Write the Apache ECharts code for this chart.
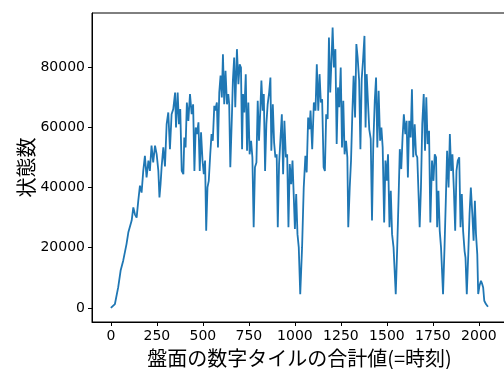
<!DOCTYPE html>
<html>
<head>
<meta charset="utf-8">
<script src="https://cdn.jsdelivr.net/npm/echarts@6/dist/echarts.min.js"></script>
<style>
  html, body { margin: 0; padding: 0; background: #fff; }
  #chart { width: 504px; height: 369px; }
</style>
</head>
<body>
<div id="chart"></div>
<script>
// 盤面の合計値(時刻)ごとの状態数 — 図から読み取った値
const sumValues = [
  0, 22, 40, 53, 67, 85, 95, 113, 122, 131, 140, 149, 158, 167, 176, 185, 194, 204, 212, 221,
  230, 240, 249, 258, 264, 270, 276, 285, 294, 303, 312, 321, 330, 339, 349, 354, 363, 370, 377, 385,
  394, 399, 406, 413, 421, 430, 439, 447, 454, 461, 468, 476, 483, 490, 498, 505, 512, 518, 525, 532,
  540, 547, 554, 562, 567, 576, 582, 589, 596, 603, 609, 616, 623, 631, 638, 643, 649, 658, 663, 670,
  676, 685, 693, 700, 707, 713, 718, 725, 733, 740, 747, 754, 762, 769, 776, 783, 791, 798, 805, 812,
  818, 825, 831, 838, 845, 852, 860, 867, 872, 880, 887, 894, 901, 907, 914, 921, 929, 936, 943, 951,
  958, 965, 972, 980, 987, 994, 1000, 1007, 1014, 1021, 1029, 1039, 1048, 1057, 1064, 1072, 1079, 1085, 1094, 1103,
  1112, 1119, 1127, 1134, 1141, 1148, 1156, 1163, 1170, 1178, 1185, 1192, 1200, 1205, 1212, 1220, 1227, 1234, 1241, 1249,
  1256, 1263, 1270, 1278, 1285, 1290, 1298, 1305, 1312, 1319, 1327, 1334, 1341, 1349, 1356, 1363, 1370, 1378, 1384, 1390,
  1397, 1404, 1412, 1419, 1426, 1434, 1441, 1448, 1455, 1463, 1470, 1477, 1485, 1492, 1499, 1506, 1514, 1521, 1528, 1536,
  1541, 1548, 1556, 1563, 1570, 1578, 1585, 1592, 1600, 1607, 1614, 1621, 1629, 1636, 1643, 1651, 1658, 1665, 1672, 1678,
  1685, 1692, 1700, 1707, 1714, 1721, 1729, 1736, 1745, 1753, 1760, 1767, 1773, 1780, 1787, 1794, 1805, 1813, 1820, 1827,
  1835, 1842, 1849, 1856, 1864, 1871, 1878, 1885, 1893, 1900, 1907, 1914, 1922, 1927, 1934, 1942, 1949, 1956, 1964, 1971,
  1978, 1984, 1991, 1996, 2003, 2011, 2018, 2023, 2029, 2038, 2049
];
const stateCounts = [
  0, 1300, 6900, 12400, 15700, 21200, 25100, 29000, 33400, 31000, 30000, 35600, 40600, 38300, 45500, 50500, 43300, 48900, 45500, 53900,
  48300, 53900, 51000, 45500, 36700, 41100, 47000, 53300, 47000, 61000, 64900, 52700, 64300, 66000, 71500, 59900, 71500, 61000, 66000, 45500,
  44400, 56600, 53300, 68200, 62100, 71000, 64300, 67600, 45500, 59900, 57700, 61600, 45500, 58300, 48900, 44400, 48900, 25600, 40000, 42200,
  51000, 57700, 55500, 67100, 65500, 68200, 53300, 71500, 77100, 69900, 84200, 67600, 78700, 67600, 71000, 67600, 46700, 64300, 75500, 83100,
  66600, 85900, 74300, 80900, 79800, 52700, 71000, 64900, 77600, 52200, 68200, 51000, 55500, 50000, 26800, 46700, 48300, 68800, 55500, 65500,
  75500, 65500, 71000, 45500, 61000, 67600, 71500, 76500, 52200, 67600, 54900, 50000, 51000, 26800, 47800, 55500, 64300, 44400, 62100, 50000,
  51000, 26800, 47800, 41100, 48900, 48900, 26200, 37800, 24500, 20100, 4600, 20100, 40000, 50500, 45000, 63200, 59300, 65500, 52700, 68200,
  65500, 80900, 65500, 77600, 68200, 69300, 46700, 45500, 64300, 62700, 89800, 71500, 84200, 93100, 79800, 85900, 54400, 73200, 66600, 79800,
  53300, 68800, 51000, 55500, 50000, 26800, 40000, 48900, 64300, 77100, 63200, 87600, 83100, 75500, 52700, 76000, 82000, 90300, 59900, 77600,
  78100, 59300, 56100, 29000, 54400, 68800, 76500, 53300, 72100, 55500, 59900, 53300, 28400, 48900, 42200, 51000, 26800, 38900, 24500, 20100,
  19500, 4600, 20100, 35600, 52700, 46100, 56600, 64300, 57700, 62100, 43300, 62100, 56600, 72600, 50000, 61000, 51000, 50000, 50000, 26800,
  40000, 61000, 71000, 52200, 69900, 54400, 58800, 28400, 48900, 42200, 51000, 50000, 26800, 38900, 25600, 20100, 4600, 20100, 35600, 52200,
  40000, 57700, 45500, 51000, 38900, 25600, 45500, 48900, 50000, 26800, 37800, 25600, 18900, 16700, 4600, 17800, 31200, 40000, 31200, 22300,
  35600, 24500, 17800, 4600, 7400, 9000, 7900, 6800, 2400, 1300, 400
];
const xTicks = [0, 250, 500, 750, 1000, 1250, 1500, 1750, 2000];
const yTicks = [0, 20000, 40000, 60000, 80000];

const points = sumValues.map((x, i) => [x, stateCounts[i]]);

const chart = echarts.init(document.getElementById('chart'), null, { renderer: 'canvas' });

// 桁区切りなしで表示
const plain = (v) => String(v);
const tickFont = { color: '#000', fontSize: 14, fontFamily: 'DejaVu Sans', formatter: plain };

chart.setOption({
  animation: false,
  backgroundColor: '#fff',
  grid: {
    left: 92,
    top: 13,
    width: 415,
    height: 309,
    outerBoundsMode: 'none',
    show: true,
    borderColor: '#000',
    borderWidth: 1,
    backgroundColor: 'transparent',
  },
  xAxis: {
    type: 'value',
    min: -102.5,
    max: 2152.5,
    splitLine: { show: false },
    axisLine: { show: true, onZero: false, lineStyle: { color: '#000', width: 1 } },
    axisTick: { show: true, length: 4, customValues: xTicks, lineStyle: { color: '#000' } },
    axisLabel: { ...tickFont, margin: 7, customValues: xTicks },
    name: '盤面の数字タイルの合計値(=時刻)',
    nameLocation: 'middle',
    nameGap: 26,
    nameMoveOverlap: false,
    nameTextStyle: { color: '#000', fontSize: 20, fontFamily: 'Noto Sans CJK JP' },
  },
  yAxis: {
    type: 'value',
    min: -4660,
    max: 97900,
    splitLine: { show: false },
    axisLine: { show: true, onZero: false, lineStyle: { color: '#000', width: 1 } },
    axisTick: { show: true, length: 4, customValues: yTicks, lineStyle: { color: '#000' } },
    axisLabel: { ...tickFont, margin: 7, customValues: yTicks },
    name: '状態数',
    nameLocation: 'middle',
    nameGap: 56,
    nameRotate: 90,
    nameMoveOverlap: false,
    nameTextStyle: { color: '#000', fontSize: 20, fontFamily: 'Noto Sans CJK JP' },
  },
  series: [{
    type: 'line',
    data: points,
    showSymbol: false,
    lineStyle: { color: '#1f77b4', width: 1.8 },
    itemStyle: { color: '#1f77b4' },
  }],
});
</script>
</body>
</html>
